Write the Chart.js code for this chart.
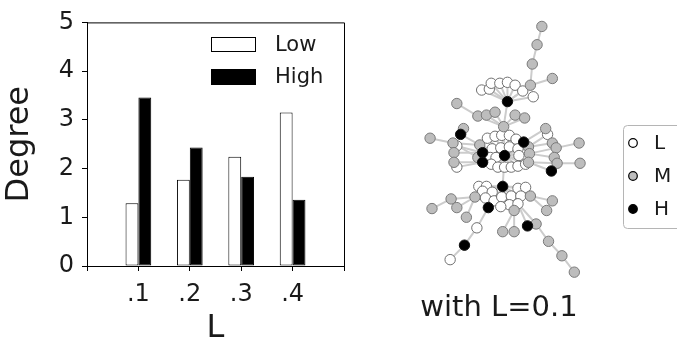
<!DOCTYPE html>
<html>
<head>
<meta charset="utf-8">
<script src="https://cdn.jsdelivr.net/npm/chart.js@4/dist/chart.umd.min.js"></script>
<style>
html,body{margin:0;padding:0;background:#fff;width:677px;height:341px;overflow:hidden;}
#c1{position:absolute;left:0;top:0;}
#c2{position:absolute;left:400px;top:0;}
</style>
</head>
<body>
<canvas id="c1" width="360" height="341"></canvas>
<canvas id="c2" width="277" height="341"></canvas>
<script>
// ---------- Bar chart data ----------
const categories = ['.1', '.2', '.3', '.4'];
const lowValues  = [1.29, 1.77, 2.24, 3.15];
const highValues = [3.46, 2.43, 1.83, 1.36];
const yTickValues = [0, 1, 2, 3, 4, 5];
const barSeriesNames = ['Low', 'High'];

// ---------- Network data (layout coordinates) ----------
// node types: L (low), M (medium), H (high)
const nodeX = [142,137,132,130,153, 79,87,89,98,106,114,122,133, 106, 53,75,84,93,114,124,102,
  60,57,25,49,53,50,50,53,77,80,75,80,103,123,128,129,128,148,146,153,157,155,158,152,181,182,
  85,93,100,108,115,90,99,108,117,88,118,94,89,96,103,110,117,125,
  101,76,84,80,90,83,92,100,110,117,125,120,108,99,117,
  72,130,47,27,53,63,113,153,147,101,113,136,149,163,176,
  86,127,61,74,46];
const nodeY = [21,40,60,82,75, 87,86,80,80,79,82,88,94, 99, 101,114,113,110,113,116,125,
  127,133,137,142,145,152,162,167,144,152,157,162,155,141,146,153,162,133,127,142,147,157,163,171,142,163,
  137,135,134,134,138,148,147,146,148,157,155,157,164,167,167,167,166,164,
  187,187,187,192,193,199,202,198,197,189,188,197,206,208,205,
  198,197,200,210,209,219,212,202,212,234,234,226,244,259,276,
  209,228,248,230,263];
const nodeType = ['M','M','M','M','M', 'L','L','L','L','L','L','L','L', 'H', 'M','M','M','M','M','M','M',
  'M','H','M','M','L','M','M','L','M','H','M','H','H','H','M','M','M','L','M','M','M','M','M','H','M','M',
  'L','L','L','L','L','L','L','L','L','L','L','L','L','L','L','L','L','L',
  'H','L','L','L','L','L','L','L','L','L','L','L','L','L','L',
  'M','M','M','M','M','M','M','M','M','M','M','M','M','M','M',
  'H','H','H','L','L'];
// edges as pairs of node indices
const edges = [
  // upper cluster
  [0,1],[1,2],[2,3],[3,4],[13,3],[13,5],[13,6],[13,7],[13,8],[13,9],[13,10],[13,11],[13,12],
  [13,20],[14,15],[15,20],[16,20],[17,20],[18,20],[19,20],[20,33],
  // middle cluster, left side
  [23,24],[21,22],[22,29],[24,29],[25,30],[26,30],[27,32],[28,32],[24,31],
  [29,33],[30,33],[31,33],[32,33],[29,47],[30,52],[31,56],[32,59],
  // middle cluster, right side
  [39,34],[38,35],[40,35],[41,36],[42,36],[43,37],[44,37],[45,41],[46,43],
  [34,33],[35,33],[36,33],[37,33],[34,51],[35,55],[36,57],[37,64],
  // middle hub to inner nodes
  [33,47],[33,48],[33,49],[33,50],[33,51],[33,52],[33,53],[33,54],[33,55],[33,56],[33,57],[33,58],
  [33,59],[33,60],[33,61],[33,62],[33,63],[33,64],
  // link to lower cluster
  [33,65],
  // lower hub to inner nodes
  [65,66],[65,67],[65,68],[65,69],[65,70],[65,71],[65,72],[65,73],[65,74],[65,75],[65,76],[65,77],[65,78],[65,79],
  // lower left
  [80,82],[82,83],[80,84],[80,85],[80,66],[80,70],
  [95,98],[98,97],[97,99],[95,71],[95,70],
  // lower right
  [81,87],[81,88],[81,75],[81,76],
  [86,89],[86,90],[86,77],[86,78],
  [96,79],[91,79],[91,92],[92,93],[93,94]
];
const nodeColors = {L:'#ffffff', M:'#bdbdbd', H:'#000000'};
const nodeBorders = {L:'#6f6f6f', M:'#7a7a7a', H:'#111111'};
const nodeLegendLabels = ['L', 'M', 'H'];
const captionText = 'with L=0.1';

const FONT = "'DejaVu Sans', sans-serif";

// ---------- Bar chart ----------
const frameAndLegend = {
  id: 'frameAndLegend',
  afterDraw(chart) {
    const {ctx, chartArea: a} = chart;
    ctx.save();
    ctx.strokeStyle = '#000';
    ctx.lineWidth = 1;
    ctx.beginPath();
    ctx.moveTo(a.left, a.top + 0.5);
    ctx.lineTo(a.right + 0.5, a.top + 0.5);
    ctx.lineTo(a.right + 0.5, a.bottom);
    ctx.stroke();
    // legend
    const items = [
      {label: barSeriesNames[0], fill: '#fff', y: 37, h: 15},
      {label: barSeriesNames[1], fill: '#000', y: 69, h: 16}
    ];
    ctx.font = '21px ' + FONT;
    ctx.textBaseline = 'middle';
    ctx.textAlign = 'left';
    items.forEach(it => {
      ctx.fillStyle = it.fill;
      ctx.fillRect(211, it.y, 45, it.h);
      ctx.strokeStyle = '#000';
      ctx.strokeRect(211.5, it.y + 0.5, 44, it.h - 1);
      ctx.fillStyle = '#1a1a1a';
      ctx.fillText(it.label, 275, it.y + it.h / 2 + 1);
    });
    ctx.restore();
  }
};

new Chart(document.getElementById('c1'), {
  type: 'bar',
  data: {
    datasets: [
      {
        label: barSeriesNames[0],
        data: categories.map((c, i) => ({x: i + 1, y: lowValues[i]})),
        backgroundColor: '#ffffff',
        borderColor: '#000000',
        borderWidth: 1,
        borderSkipped: false
      },
      {
        label: barSeriesNames[1],
        data: categories.map((c, i) => ({x: i + 1, y: highValues[i]})),
        backgroundColor: '#000000',
        borderColor: '#000000',
        borderWidth: 1,
        borderSkipped: false
      }
    ]
  },
  options: {
    responsive: false,
    animation: false,
    events: [],
    categoryPercentage: 0.5,
    barPercentage: 1.0,
    layout: {padding: {left: 0, top: 15, right: 16, bottom: 0}},
    plugins: {legend: {display: false}, tooltip: {enabled: false}},
    scales: {
      x: {
        type: 'linear',
        min: 0, max: categories.length + 1,
        offset: false,
        grid: {offset: false, drawOnChartArea: false, drawTicks: true, tickLength: 5, color: '#000'},
        border: {display: true, color: '#000', width: 1},
        ticks: {
          stepSize: 1,
          autoSkip: false,
          maxRotation: 0,
          padding: 9,
          color: '#1a1a1a',
          font: {family: FONT, size: 24},
          callback: v => categories[v - 1] || ''
        },
        title: {display: true, text: 'L', color: '#1a1a1a', font: {family: FONT, size: 32, lineHeight: 0.75}, padding: 0},
        afterFit: s => { s.height = 75; }
      },
      y: {
        type: 'linear',
        min: 0, max: 5,
        afterBuildTicks: s => { s.ticks = yTickValues.map(v => ({value: v})); },
        grid: {drawOnChartArea: false, drawTicks: true, tickLength: 5, color: '#000'},
        border: {display: true, color: '#000', width: 1},
        ticks: {padding: 8, color: '#1a1a1a', font: {family: FONT, size: 24}},
        title: {display: true, text: 'Degree', color: '#1a1a1a', font: {family: FONT, size: 32}, padding: 0},
        afterFit: s => { s.width = 87; }
      }
    }
  },
  plugins: [frameAndLegend]
});

// ---------- Network chart ----------
const edgeDatasets = edges.map(([a, b]) => ({
  type: 'line',
  data: [{x: nodeX[a], y: nodeY[a]}, {x: nodeX[b], y: nodeY[b]}],
  borderColor: '#cccccc',
  borderWidth: 2,
  pointRadius: 0,
  fill: false,
  order: 5
}));
const nodeDatasets = nodeLegendLabels.map(t => ({
  type: 'scatter',
  label: t,
  data: nodeX.map((x, i) => ({x, y: nodeY[i], t: nodeType[i]})).filter(p => p.t === t),
  backgroundColor: nodeColors[t],
  borderColor: nodeBorders[t],
  borderWidth: 1,
  pointRadius: 5.2,
  order: t === 'H' ? 0 : (t === 'M' ? 1 : 2)
}));

const netDecor = {
  id: 'netDecor',
  afterDraw(chart) {
    const {ctx} = chart;
    ctx.save();
    // caption
    ctx.font = '29px ' + FONT;
    ctx.fillStyle = '#1a1a1a';
    ctx.textAlign = 'center';
    ctx.textBaseline = 'alphabetic';
    ctx.fillText(captionText, 99, 316);
    // legend box
    const bx = 223, by = 125, bw = 70, bh = 103, r = 4;
    ctx.beginPath();
    ctx.moveTo(bx + r + 0.5, by + 0.5);
    ctx.lineTo(bx + bw, by + 0.5);
    ctx.lineTo(bx + bw, by + bh + 0.5);
    ctx.lineTo(bx + r + 0.5, by + bh + 0.5);
    ctx.arcTo(bx + 0.5, by + bh + 0.5, bx + 0.5, by + bh - r, r);
    ctx.lineTo(bx + 0.5, by + r + 0.5);
    ctx.arcTo(bx + 0.5, by + 0.5, bx + r + 0.5, by + 0.5, r);
    ctx.fillStyle = '#fff';
    ctx.fill();
    ctx.strokeStyle = '#b5b5b5';
    ctx.lineWidth = 1;
    ctx.stroke();
    ctx.font = '20px ' + FONT;
    ctx.textAlign = 'left';
    ctx.textBaseline = 'middle';
    nodeLegendLabels.forEach((t, i) => {
      const cy = 143 + i * 33;
      ctx.beginPath();
      ctx.arc(233, cy, 4.3, 0, Math.PI * 2);
      ctx.fillStyle = nodeColors[t];
      ctx.fill();
      ctx.strokeStyle = '#000';
      ctx.lineWidth = 1.2;
      ctx.stroke();
      ctx.fillStyle = '#1a1a1a';
      ctx.fillText(t, 254, cy + 1);
    });
    ctx.restore();
  }
};

new Chart(document.getElementById('c2'), {
  data: {datasets: [...nodeDatasets, ...edgeDatasets]},
  options: {
    responsive: false,
    animation: false,
    events: [],
    layout: {padding: 0},
    plugins: {legend: {display: false}, tooltip: {enabled: false}},
    scales: {
      x: {type: 'linear', min: 0, max: 277, display: false},
      y: {type: 'linear', min: 0, max: 341, reverse: true, display: false}
    }
  },
  plugins: [netDecor]
});
</script>
</body>
</html>
